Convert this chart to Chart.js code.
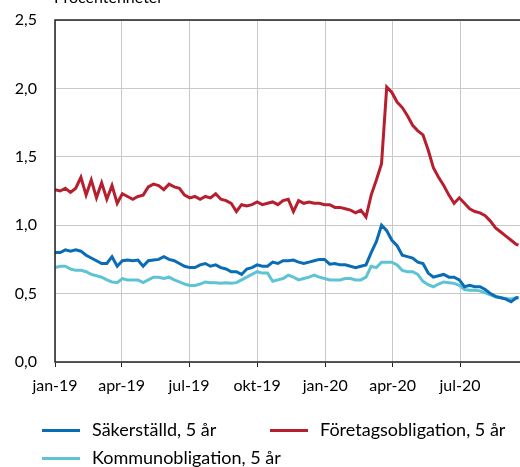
<!DOCTYPE html>
<html>
<head>
<meta charset="utf-8">
<script src="https://cdn.jsdelivr.net/npm/chart.js@4"></script>
<style>
    body { margin: 0; background: #fff; }
    #wrap { position: relative; width: 520px; height: 467px; }
    .legend { position: absolute; font-family: Lato, sans-serif; font-size: 18px; color: #000; white-space: nowrap; }
    .legend span { display: inline-block; width: 38px; height: 3px; vertical-align: middle; margin-right: 12px; position: relative; top: -1px; }
</style>
</head>
<body>
<div id="wrap">
    <canvas id="chart" width="520" height="467"></canvas>
    <div class="legend" style="left:42px; top:418px;"><span style="background:#0a6cb4"></span>Säkerställd, 5 år</div>
    <div class="legend" style="left:270px; top:418px;"><span style="background:#b61f2e"></span>Företagsobligation, 5 år</div>
    <div class="legend" style="left:42px; top:446px;"><span style="background:#5ec4d3"></span>Kommunobligation, 5 år</div>
</div>
<script>
// days since 2019-01-01
const days = [0, 7, 14, 21, 28, 35, 42, 49, 56, 63, 70, 77, 84, 91, 98, 105, 112, 119, 126, 133,
    140, 147, 154, 161, 168, 175, 182, 189, 196, 203, 210, 217, 224, 231, 238, 245, 252, 259, 266, 273,
    280, 287, 294, 301, 308, 315, 322, 329, 336, 343, 350, 357, 364, 371, 378, 385, 392, 399, 406, 413,
    420, 427, 434, 441, 448, 455, 462, 469, 476, 483, 490, 497, 504, 511, 518, 525, 532, 539, 546, 553,
    560, 567, 574, 581, 588, 595, 602, 609, 616, 623, 626];

const foretag = [1.26, 1.25, 1.27, 1.24, 1.27, 1.35, 1.22, 1.33, 1.20, 1.31, 1.19, 1.29, 1.16, 1.23, 1.21, 1.19, 1.21, 1.22, 1.28, 1.30,
    1.29, 1.26, 1.30, 1.28, 1.27, 1.22, 1.20, 1.21, 1.19, 1.21, 1.20, 1.23, 1.19, 1.18, 1.16, 1.10, 1.15, 1.14, 1.15, 1.17,
    1.15, 1.16, 1.17, 1.15, 1.18, 1.19, 1.10, 1.18, 1.16, 1.17, 1.16, 1.16, 1.15, 1.15, 1.13, 1.13, 1.12, 1.11, 1.09, 1.11,
    1.06, 1.22, 1.33, 1.45, 2.01, 1.97, 1.90, 1.86, 1.80, 1.73, 1.69, 1.66, 1.55, 1.42, 1.35, 1.29, 1.22, 1.16, 1.20, 1.16,
    1.12, 1.10, 1.09, 1.07, 1.03, 0.98, 0.95, 0.92, 0.89, 0.86, 0.855];

const sakerstalld = [0.80, 0.80, 0.82, 0.81, 0.82, 0.81, 0.78, 0.76, 0.74, 0.72, 0.72, 0.77, 0.70, 0.74, 0.745, 0.74, 0.745, 0.70, 0.74, 0.745,
    0.75, 0.77, 0.75, 0.74, 0.72, 0.70, 0.69, 0.69, 0.71, 0.72, 0.70, 0.71, 0.69, 0.68, 0.66, 0.66, 0.64, 0.68, 0.69, 0.71,
    0.70, 0.70, 0.73, 0.72, 0.74, 0.74, 0.745, 0.73, 0.72, 0.73, 0.74, 0.75, 0.75, 0.715, 0.72, 0.71, 0.71, 0.70, 0.69, 0.70,
    0.71, 0.80, 0.88, 1.00, 0.96, 0.89, 0.85, 0.78, 0.77, 0.76, 0.73, 0.72, 0.65, 0.62, 0.63, 0.64, 0.62, 0.62, 0.60, 0.55,
    0.56, 0.55, 0.55, 0.53, 0.50, 0.48, 0.47, 0.46, 0.44, 0.47, 0.47];

const kommun = [0.69, 0.70, 0.70, 0.68, 0.67, 0.67, 0.66, 0.64, 0.63, 0.62, 0.60, 0.585, 0.58, 0.61, 0.60, 0.60, 0.60, 0.58, 0.60, 0.62,
    0.62, 0.61, 0.62, 0.60, 0.585, 0.57, 0.56, 0.56, 0.57, 0.585, 0.58, 0.58, 0.575, 0.58, 0.575, 0.58, 0.60, 0.62, 0.64, 0.66,
    0.65, 0.65, 0.59, 0.60, 0.61, 0.635, 0.62, 0.60, 0.61, 0.62, 0.635, 0.62, 0.61, 0.60, 0.60, 0.60, 0.61, 0.61, 0.60, 0.60,
    0.62, 0.70, 0.69, 0.73, 0.73, 0.73, 0.71, 0.67, 0.66, 0.66, 0.64, 0.59, 0.565, 0.55, 0.57, 0.585, 0.58, 0.575, 0.56, 0.53,
    0.525, 0.525, 0.52, 0.505, 0.49, 0.475, 0.47, 0.465, 0.46, 0.47, 0.47];

const tickDays = [0, 90, 181, 273, 365, 456, 547];
const tickLabels = ['jan-19', 'apr-19', 'jul-19', 'okt-19', 'jan-20', 'apr-20', 'jul-20'];
const yTicks = [0, 0.5, 1.0, 1.5, 2.0, 2.5];

function toPoints(values) {
    return days.map((d, i) => ({ x: d, y: values[i] }));
}

const unitTitle = {
    id: 'unitTitle',
    afterDraw(chart) {
        const c = chart.ctx;
        c.save();
        c.font = '16px Lato, sans-serif';
        c.fillStyle = '#000';
        c.textBaseline = 'alphabetic';
        c.fillText('Procentenheter', 54, 3);
        c.restore();
    }
};

const frame = {
    id: 'frame',
    afterDatasetsDraw(chart) {
        const a = chart.chartArea;
        const c = chart.ctx;
        c.save();
        c.strokeStyle = '#222';
        c.lineWidth = 1.5;
        c.beginPath();
        c.moveTo(a.right, a.top);
        c.lineTo(a.left, a.top);
        c.lineTo(a.left, a.bottom);
        c.lineTo(a.right, a.bottom);
        c.stroke();
        c.restore();
    }
};

new Chart(document.getElementById('chart').getContext('2d'), {
    type: 'line',
    data: {
        datasets: [
            { label: 'Säkerställd, 5 år', data: toPoints(sakerstalld), borderColor: '#0a6cb4', borderWidth: 3, pointRadius: 0, tension: 0 },
            { label: 'Kommunobligation, 5 år', data: toPoints(kommun), borderColor: '#5ec4d3', borderWidth: 3, pointRadius: 0, tension: 0 },
            { label: 'Företagsobligation, 5 år', data: toPoints(foretag), borderColor: '#b61f2e', borderWidth: 3, pointRadius: 0, tension: 0 }
        ]
    },
    options: {
        responsive: false,
        animation: false,
        layout: { padding: { top: 20, right: 0, bottom: 0, left: 0 } },
        plugins: {
            legend: { display: false },
            tooltip: { enabled: false }
        },
        scales: {
            x: {
                type: 'linear',
                min: 0,
                max: 628,
                afterBuildTicks: function(scale) {
                    scale.ticks = tickDays.map(v => ({ value: v }));
                },
                afterFit: function(scale) { scale.height = 105; },
                border: { display: false },
                grid: { color: '#c8c8c8', lineWidth: 1, tickLength: 5, tickColor: '#222' },
                ticks: {
                    autoSkip: false,
                    maxRotation: 0,
                    padding: 9,
                    color: '#000',
                    font: { family: 'Lato', size: 16 },
                    callback: function(value) {
                        const i = tickDays.indexOf(value);
                        return i >= 0 ? tickLabels[i] : '';
                    }
                }
            },
            y: {
                min: 0,
                max: 2.5,
                afterBuildTicks: function(scale) {
                    scale.ticks = yTicks.map(v => ({ value: v }));
                },
                afterFit: function(scale) { scale.width = 55; },
                border: { display: false },
                grid: { color: '#c8c8c8', lineWidth: 1, tickLength: 18, tickColor: 'rgba(0,0,0,0)' },
                ticks: {
                    padding: 0,
                    color: '#000',
                    font: { family: 'Lato', size: 16 },
                    callback: function(value) {
                        return value.toFixed(1).replace('.', ',');
                    }
                }
            }
        }
    },
    plugins: [unitTitle, frame]
});
</script>
</body>
</html>
